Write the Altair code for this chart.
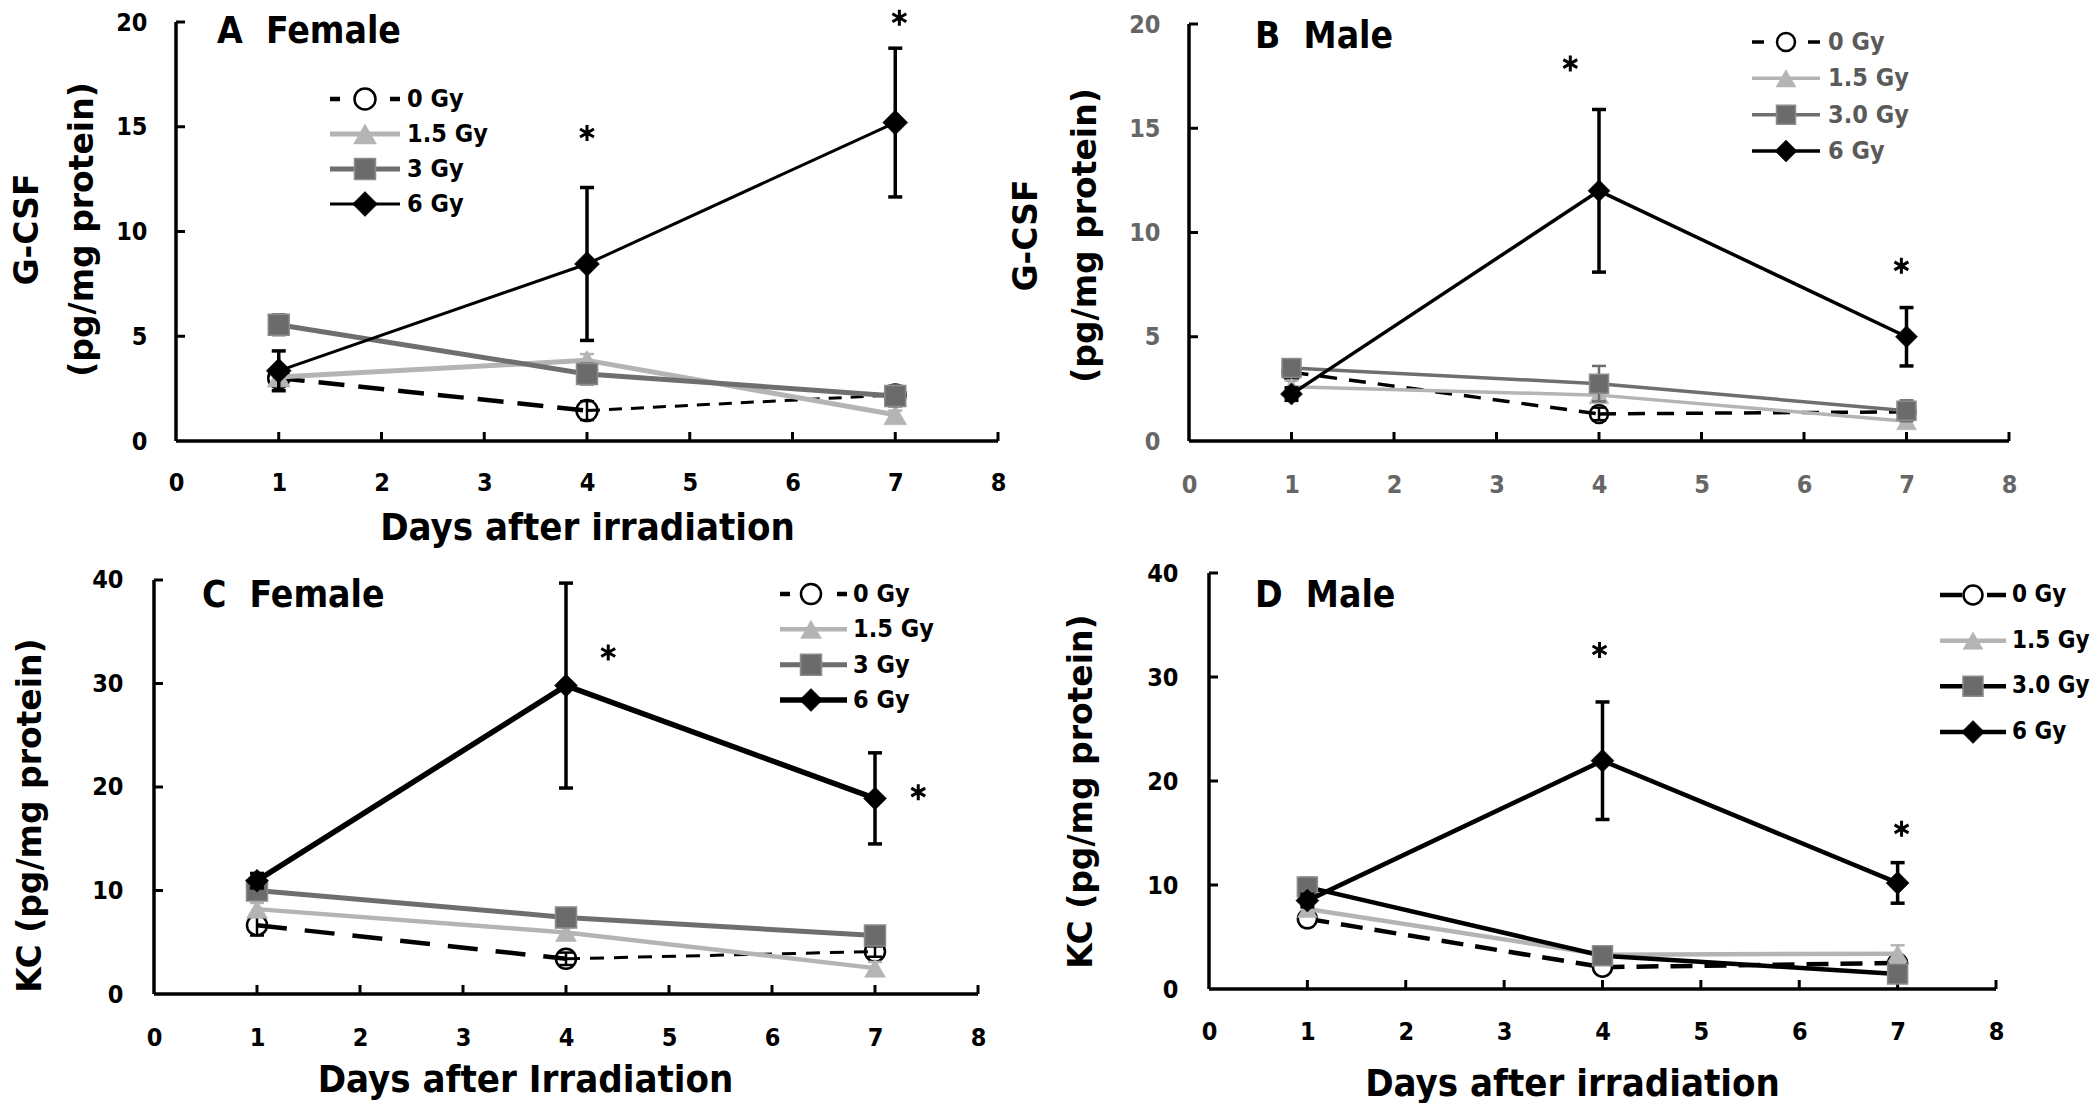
import altair as alt
import pandas as pd

# ---------------- data ----------------
DAYS = [1, 4, 7]
X_TICKS = [0, 1, 2, 3, 4, 5, 6, 7, 8]
GCSF_TICKS = [0, 5, 10, 15, 20]
KC_TICKS = [0, 10, 20, 30, 40]
LABELS_F = ["0 Gy", "1.5 Gy", "3 Gy", "6 Gy"]
LABELS_M = ["0 Gy", "1.5 Gy", "3.0 Gy", "6 Gy"]

# Panel A: G-CSF, female (mean, error)
A_0GY = [3.0, 1.45, 2.2]
A_0GY_ERR = [0.3, 0.45, 0.3]
A_15GY = [3.05, 3.85, 1.25]
A_15GY_ERR = [0.3, 0.3, 0.2]
A_3GY = [5.55, 3.2, 2.15]
A_3GY_ERR = [0.5, 0.5, 0.5]
A_6GY = [3.35, 8.45, 15.2]
A_6GY_ERR = [0.95, 3.65, 3.55]
A_STAR_DAY = [4.0, 7.04]
A_STAR_VAL = [14.7, 20.2]

# Panel B: G-CSF, male
B_0GY = [3.3, 1.3, 1.4]
B_0GY_ERR = [0.3, 0.3, 0.2]
B_15GY = [2.6, 2.2, 0.95]
B_15GY_ERR = [0.3, 0.3, 0.2]
B_3GY = [3.5, 2.75, 1.45]
B_3GY_ERR = [0.4, 0.85, 0.5]
B_6GY = [2.25, 12.0, 5.0]
B_6GY_ERR = [0.3, 3.9, 1.4]
B_STAR_DAY = [3.72, 6.95]
B_STAR_VAL = [18.1, 8.4]

# Panel C: KC, female
C_0GY = [6.65, 3.4, 4.1]
C_0GY_ERR = [1.0, 0.6, 0.5]
C_15GY = [8.2, 5.95, 2.5]
C_15GY_ERR = [0.6, 0.5, 0.6]
C_3GY = [10.0, 7.4, 5.65]
C_3GY_ERR = [0.6, 0.5, 0.4]
C_6GY = [10.95, 29.8, 18.9]
C_6GY_ERR = [0.7, 9.9, 4.4]
C_STAR_DAY = [4.41, 7.42]
C_STAR_VAL = [33.0, 19.5]

# Panel D: KC, male
D_0GY = [6.75, 2.1, 2.5]
D_0GY_ERR = [0.5, 0.5, 0.5]
D_15GY = [7.7, 3.3, 3.4]
D_15GY_ERR = [0.5, 0.4, 0.8]
D_3GY = [9.8, 3.2, 1.45]
D_3GY_ERR = [0.9, 0.6, 0.6]
D_6GY = [8.5, 21.95, 10.2]
D_6GY_ERR = [0.6, 5.65, 1.95]
D_STAR_DAY = [3.97, 7.04]
D_STAR_VAL = [32.6, 15.4]

# ---------------- styles ----------------
NARROW = "'DejaVu Sans Condensed', 'Liberation Sans Narrow', Roboto, sans-serif"
WIDE = "'DejaVu Sans', Verdana, sans-serif"
STAR = "M0,-1L0,1M-0.87,-0.5L0.87,0.5M-0.87,0.5L0.87,-0.5"
LIGHT = "#b4b4b4"
MID = "#6e6e6e"
NB = "\u00a0"


def styles(w0, dash0, w15, w3, w6, sizes, line3="#6e6e6e", circ_fill="transparent"):
    c, t, s, d = sizes
    return [
        dict(color="black", widths=w0, dashes=dash0, shape="circle", size=c,
             fill=circ_fill, stroke="black", sw=2.5, ecolor="black", ew=2.5),
        dict(color=LIGHT, widths=[w15, w15], dashes=None, shape="triangle-up", size=t,
             fill=LIGHT, stroke=LIGHT, sw=0.5, ecolor=LIGHT, ew=2.5),
        dict(color=line3, widths=[w3, w3], dashes=None, shape="square", size=s,
             fill="#6b6b6b", stroke="#8c8c8c", sw=1.5, ecolor=MID, ew=2.5),
        dict(color="black", widths=[w6, w6], dashes=None, shape="diamond", size=d,
             fill="black", stroke="black", sw=0.5, ecolor="black", ew=3.5),
    ]


def frame(vals, errs):
    return pd.DataFrame({
        "day": DAYS,
        "v": vals,
        "lo": [m - e for m, e in zip(vals, errs)],
        "hi": [m + e for m, e in zip(vals, errs)],
    })


def build_panel(cfg):
    xs = alt.Scale(domain=[cfg["x0"], 8], nice=False, zero=False)
    ys = alt.Scale(domain=[0, cfg["ytop"]], nice=False, zero=False)

    xkw = dict(values=X_TICKS, domain=False, ticks=False, grid=False,
               labelFlush=False, labelOverlap=False, labelFont=NARROW,
               labelFontSize=25, labelFontWeight="bold", labelColor=cfg["tick_color"],
               labelPadding=cfg["xlabpad"])
    if cfg["xtitle"]:
        xkw.update(title=cfg["xtitle"], titleX=cfg["xt_x"], titleY=cfg["xt_y"],
                   titleFont=NARROW, titleFontSize=38, titleFontWeight="bold",
                   titleAlign="center", titleBaseline="middle", titleColor="black")
    else:
        xkw.update(title=None)
    ykw = dict(values=cfg["yticks"], domain=False, ticks=False, grid=False,
               labelFlush=False, labelOverlap=False, labelFont=NARROW,
               labelFontSize=25, labelFontWeight="bold", labelColor=cfg["tick_color"],
               labelPadding=cfg["ylabpad"],
               title=cfg["ytitle"], titleX=cfg["yt_x"], titleY=cfg["yt_y"],
               titleFont=WIDE, titleFontSize=33, titleFontWeight="bold",
               titleLineHeight=cfg["yt_lh"], titleAngle=270,
               titleAlign="center", titleBaseline="middle", titleColor="black")

    X = alt.X("day:Q", scale=xs, axis=alt.Axis(**xkw))

    def Yf(field):
        return alt.Y(field + ":Q", scale=ys, axis=alt.Axis(**ykw))

    layers = []
    # axis lines
    layers.append(alt.Chart(pd.DataFrame({"day": [0], "day2": [8], "v": [0]}))
                  .mark_rule(color="black", strokeWidth=3.5)
                  .encode(x=X, x2="day2:Q", y=Yf("v")))
    layers.append(alt.Chart(pd.DataFrame({"day": [0], "v": [0], "v2": [cfg["yticks"][-1]]}))
                  .mark_rule(color="black", strokeWidth=3.5)
                  .encode(x=X, y=Yf("v"), y2="v2:Q"))
    # inward tick marks
    layers.append(alt.Chart(pd.DataFrame({"day": X_TICKS[1:], "v": [0] * (len(X_TICKS) - 1)}))
                  .mark_tick(orient="vertical", size=9, thickness=3, yOffset=-4.5, color="black", opacity=1)
                  .encode(x=X, y=Yf("v")))
    layers.append(alt.Chart(pd.DataFrame({"day": [0] * (len(cfg["yticks"]) - 1), "v": cfg["yticks"][1:]}))
                  .mark_tick(orient="horizontal", size=9, thickness=3, xOffset=4.5, color="black", opacity=1)
                  .encode(x=X, y=Yf("v")))

    # series
    for (vals, errs), st in zip(cfg["series"], cfg["styles"]):
        df = frame(vals, errs)
        layers.append(alt.Chart(df).mark_rule(color=st["ecolor"], strokeWidth=st["ew"])
                      .encode(x=X, y=Yf("lo"), y2="hi:Q"))
        for fld in ["lo", "hi"]:
            layers.append(alt.Chart(df).mark_tick(orient="horizontal", size=14, thickness=st["ew"],
                                                  color=st["ecolor"], opacity=1)
                          .encode(x=X, y=Yf(fld)))
        for seg, w, k in [(df.iloc[0:2], st["widths"][0], 0), (df.iloc[1:3], st["widths"][1], 1)]:
            mk = dict(color=st["color"], strokeWidth=w)
            if st["dashes"]:
                mk["strokeDash"] = st["dashes"][k]
            layers.append(alt.Chart(seg).mark_line(**mk).encode(x=X, y=Yf("v")))
        layers.append(alt.Chart(df).mark_point(shape=st["shape"], size=st["size"], filled=True,
                                               fill=st["fill"], stroke=st["stroke"],
                                               strokeWidth=st["sw"], opacity=1)
                      .encode(x=X, y=Yf("v")))

    # significance asterisks
    layers.append(alt.Chart(pd.DataFrame({"day": cfg["star_day"], "v": cfg["star_val"]}))
                  .mark_point(shape=STAR, size=256, filled=False, stroke="black",
                              strokeWidth=3, strokeJoin="round", strokeCap="butt", opacity=1)
                  .encode(x=X, y=Yf("v")))

    # panel label
    layers.append(alt.Chart(pd.DataFrame({"t": [cfg["label"]]}))
                  .mark_text(align="left", baseline="middle", font=NARROW, fontSize=37,
                             fontWeight="bold", color="black")
                  .encode(text="t:N", x=alt.value(cfg["label_x"]), y=alt.value(cfg["label_y"])))

    inner = alt.layer(*layers)

    # legend (own row scale)
    yrow = alt.Y("row:Q", scale=alt.Scale(domain=[0, 3], range=cfg["leg_rows"]), axis=None)
    leg = []
    for i, (lab, st) in enumerate(zip(cfg["labels"], cfg["styles"])):
        rdf = pd.DataFrame({"row": [i], "label": [lab]})
        mk = dict(color=st["color"], strokeWidth=st["widths"][0])
        if st["dashes"]:
            mk["strokeDash"] = cfg["leg_dash"]
        leg.append(alt.Chart(rdf).mark_rule(**mk)
                   .encode(x=alt.value(cfg["leg_x1"]), x2=alt.value(cfg["leg_x2"]), y=yrow))
        leg.append(alt.Chart(rdf).mark_point(shape=st["shape"], size=st["size"], filled=True,
                                             fill=st["fill"], stroke=st["stroke"],
                                             strokeWidth=st["sw"], opacity=1)
                   .encode(x=alt.value(cfg["leg_xm"]), y=yrow))
        leg.append(alt.Chart(rdf).mark_text(align="left", baseline="middle", font=NARROW,
                                            fontSize=cfg["leg_fs"], fontWeight="bold",
                                            color=cfg["leg_color"])
                   .encode(text="label:N", x=alt.value(cfg["leg_xt"]), y=yrow))
    legend = alt.layer(*leg)

    return (alt.layer(inner, legend)
            .resolve_scale(y="independent")
            .properties(width=cfg["width"], height=cfg["height"]))


cfgA = dict(
    x0=-22 / 102.75, width=844, height=419, ytop=20, yticks=GCSF_TICKS,
    ylabpad=7, xlabpad=29, tick_color="black",
    xtitle="Days after irradiation", xt_x=433, xt_y=87,
    ytitle=["G-CSF", "(pg/mg protein)"], yt_x=-127, yt_y=207, yt_lh=55,
    label="A" + NB + NB + "Female", label_x=63, label_y=10,
    leg_rows=[77, 182], leg_x1=176, leg_x2=246, leg_xm=211, leg_xt=253,
    leg_dash=[10, 50], leg_fs=25, leg_color="black", labels=LABELS_F,
    series=[(A_0GY, A_0GY_ERR), (A_15GY, A_15GY_ERR), (A_3GY, A_3GY_ERR), (A_6GY, A_6GY_ERR)],
    styles=styles([4.5, 3], [[26, 14], [13, 9]], 5, 5, 3, [441, 529, 441, 625]),
    star_day=A_STAR_DAY, star_val=A_STAR_VAL,
)

cfgB = dict(
    x0=0, width=820, height=419, ytop=20.096, yticks=GCSF_TICKS,
    ylabpad=29, xlabpad=31, tick_color="#666666",
    xtitle=None, xt_x=0, xt_y=0,
    ytitle=["G-CSF", "(pg/mg protein)"], yt_x=-163, yt_y=213, yt_lh=59,
    label="B" + NB + NB + "Male", label_x=66, label_y=14.5,
    leg_rows=[20, 129], leg_x1=563, leg_x2=631, leg_xm=597, leg_xt=639,
    leg_dash=[12, 44], leg_fs=25, leg_color="#5a5a5a", labels=LABELS_M,
    series=[(B_0GY, B_0GY_ERR), (B_15GY, B_15GY_ERR), (B_3GY, B_3GY_ERR), (B_6GY, B_6GY_ERR)],
    styles=styles([3.5, 3.5], [[17, 12], [17, 12]], 3.5, 3.5, 3.5, [324, 400, 361, 484]),
    star_day=B_STAR_DAY, star_val=B_STAR_VAL,
)

cfgC = dict(
    x0=0, width=824, height=421, ytop=40.676, yticks=KC_TICKS,
    ylabpad=31, xlabpad=31, tick_color="black",
    xtitle="Days after Irradiation", xt_x=371, xt_y=86,
    ytitle="KC (pg/mg protein)", yt_x=-124, yt_y=242, yt_lh=40,
    label="C" + NB + NB + "Female", label_x=48, label_y=23,
    leg_rows=[21, 127], leg_x1=626, leg_x2=693, leg_xm=657, leg_xt=699,
    leg_dash=[10, 47], leg_fs=25, leg_color="black", labels=LABELS_F,
    series=[(C_0GY, C_0GY_ERR), (C_15GY, C_15GY_ERR), (C_3GY, C_3GY_ERR), (C_6GY, C_6GY_ERR)],
    styles=styles([4.5, 3], [[30, 18], [14, 10]], 4.5, 5, 5.5, [400, 441, 441, 529]),
    star_day=C_STAR_DAY, star_val=C_STAR_VAL,
)

cfgD = dict(
    x0=-20 / 98.4, width=807, height=416, ytop=40, yticks=KC_TICKS,
    ylabpad=11, xlabpad=30.5, tick_color="black",
    xtitle="Days after irradiation", xt_x=383, xt_y=95,
    ytitle="KC (pg/mg protein)", yt_x=-108, yt_y=218, yt_lh=40,
    label="D" + NB + NB + "Male", label_x=66, label_y=23,
    leg_rows=[22, 159], leg_x1=751, leg_x2=817, leg_xm=784, leg_xt=823,
    leg_dash=[22, 25], leg_fs=24, leg_color="black", labels=LABELS_M,
    series=[(D_0GY, D_0GY_ERR), (D_15GY, D_15GY_ERR), (D_3GY, D_3GY_ERR), (D_6GY, D_6GY_ERR)],
    styles=styles([4.5, 4.5], [[22, 12], [22, 12]], 4.5, 4.5, 4.5, [361, 400, 400, 529],
                  line3="black", circ_fill="white"),
    star_day=D_STAR_DAY, star_val=D_STAR_VAL,
)

chart = (alt.concat(build_panel(cfgA), build_panel(cfgB), build_panel(cfgC), build_panel(cfgD),
                    columns=2, spacing={"row": 132, "column": 191}, bounds="flush")
         .properties(padding={"left": 3, "top": 0, "right": 0, "bottom": 0})
         .configure(background="white")
         .configure_view(stroke=None, strokeWidth=0))

chart.save("out.html", embed_options={"renderer": "svg", "actions": False})
